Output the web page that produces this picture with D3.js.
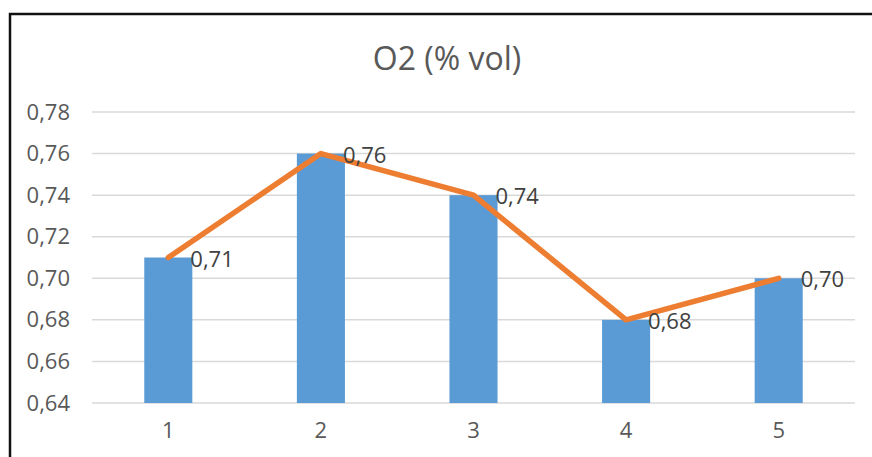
<!DOCTYPE html>
<html>
<head>
<meta charset="utf-8">
<script src="https://cdn.jsdelivr.net/npm/d3@7"></script>
<style>
  body { margin: 0; background: #fff; }
  text { font-family: "Open Sans", "Liberation Sans", Arial, sans-serif; }
</style>
</head>
<body>
<svg class="chart" width="872" height="457"></svg>
<script>
const categories = ['1', '2', '3', '4', '5'];
const values = [0.71, 0.76, 0.74, 0.68, 0.70];
const yTicks = [0.64, 0.66, 0.68, 0.70, 0.72, 0.74, 0.76, 0.78];
const title = 'O2 (% vol)';

const fmt = (v) => d3.format('.2f')(v).replace('.', ',');
const font = '"Open Sans", "Liberation Sans", Arial, sans-serif';

const svg = d3.select('.chart');

// frame
svg.append('path')
  .attr('d', 'M10,470 V14 H880')
  .attr('fill', 'none')
  .attr('stroke', '#111')
  .attr('stroke-width', 2.5);

const x = d3.scaleBand()
  .domain(categories)
  .range([92, 855])
  .paddingInner(0.685)
  .paddingOuter(0.3425);

const y = d3.scaleLinear()
  .domain([0.64, 0.78])
  .range([403, 112]);

// gridlines
svg.append('g')
  .selectAll('line')
  .data(yTicks)
  .enter()
  .append('line')
  .attr('x1', 92)
  .attr('x2', 855)
  .attr('y1', (d) => y(d))
  .attr('y2', (d) => y(d))
  .attr('stroke', '#d9d9d9')
  .attr('stroke-width', 1.5);

// y axis labels
const yAxis = svg.append('g')
  .attr('transform', 'translate(70,0)')
  .call(d3.axisLeft(y).tickValues(yTicks).tickFormat(fmt).tickSize(0).tickPadding(0));
yAxis.select('.domain').remove();
yAxis.selectAll('text')
  .attr('font-size', 22)
  .attr('fill', '#595959')
  .style('font-family', font);

// x axis labels
const xAxis = svg.append('g')
  .attr('transform', 'translate(0,403)')
  .call(d3.axisBottom(x).tickSize(0).tickPadding(19));
xAxis.select('.domain').remove();
xAxis.selectAll('text')
  .attr('font-size', 22)
  .attr('fill', '#595959')
  .style('font-family', font);

// bars
svg.append('g')
  .selectAll('rect')
  .data(values)
  .enter()
  .append('rect')
  .attr('x', (d, i) => x(categories[i]))
  .attr('width', x.bandwidth())
  .attr('y', (d) => y(d))
  .attr('height', (d) => y(0.64) - y(d))
  .attr('fill', '#5b9bd5');

// line
const line = d3.line()
  .x((d, i) => x(categories[i]) + x.bandwidth() / 2)
  .y((d) => y(d));

svg.append('path')
  .datum(values)
  .attr('d', line)
  .attr('fill', 'none')
  .attr('stroke', '#ed7d31')
  .attr('stroke-width', 5.5)
  .attr('stroke-linejoin', 'round')
  .attr('stroke-linecap', 'round');

// data labels
svg.append('g')
  .selectAll('text')
  .data(values)
  .enter()
  .append('text')
  .attr('x', (d, i) => x(categories[i]) + x.bandwidth() / 2 + 22)
  .attr('y', (d) => y(d) + 9)
  .attr('font-size', 22)
  .attr('fill', '#404040')
  .text(fmt);

// title
svg.append('text')
  .attr('x', 447)
  .attr('y', 70)
  .attr('text-anchor', 'middle')
  .attr('font-size', 32)
  .attr('fill', '#595959')
  .text(title);
</script>
</body>
</html>
